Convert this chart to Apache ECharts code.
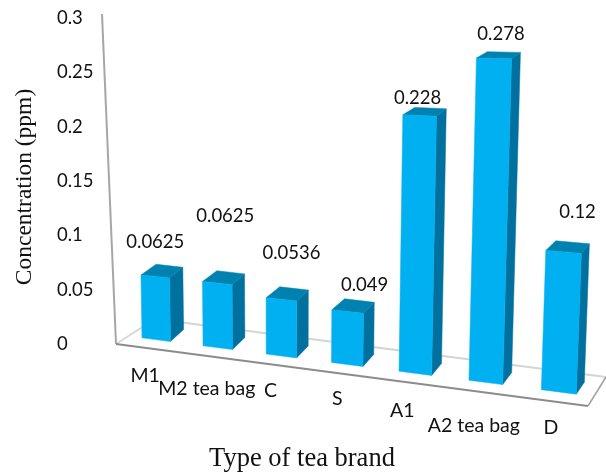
<!DOCTYPE html>
<html><head><meta charset="utf-8">
<style>html,body{margin:0;padding:0;background:#fff}#c{width:606px;height:475px}</style>
<script src="https://cdn.jsdelivr.net/npm/echarts@6/dist/echarts.min.js"></script>
</head><body><div id="c"></div>
<script>
const categories = ['M1','M2 tea bag','C','S','A1','A2 tea bag','D'];
const values = [0.0625,0.0625,0.0536,0.049,0.228,0.278,0.12];
const valueTicks = [0,0.05,0.1,0.15,0.2,0.25,0.3];
const valueLabels = ['0.0625','0.0625','0.0536','0.049','0.228','0.278','0.12'];
// layout nudges for free-floating labels (pixels)
const valueNudge = [[0,-34],[8,-67],[10,-46],[17,-27],[-2,-18],[7,-24],[14,-40]];
const catNudge = [[-11,36],[-11,41],[-11,35],[-10,34],[-13,37],[-12,43],[-8,36]];

const FRONT='#00B0F0', SIDE='#00709E', TOP='#0082B0';
const LABEL_FONT='18.5px Lato';
const CAT_FONT='19.5px Lato';
const INK='#111111';

// Homography from a rectangle of grid pixels to the tilted plane of the bar fronts
const src={x0:135,x1:569,yb:344,yt:18};
const Q=[[143,338],[575,394],[588,33],[138,27]]; // unit (0,0),(1,0),(1,1),(0,1)
function quadH(q){
  const [p0,p1,p2,p3]=q;
  const dx1=p1[0]-p2[0],dx2=p3[0]-p2[0],sx=p0[0]-p1[0]+p2[0]-p3[0];
  const dy1=p1[1]-p2[1],dy2=p3[1]-p2[1],sy=p0[1]-p1[1]+p2[1]-p3[1];
  const det=dx1*dy2-dx2*dy1;
  const g=(sx*dy2-dx2*sy)/det,h=(dx1*sy-sx*dy1)/det;
  return [p1[0]-p0[0]+g*p1[0],p3[0]-p0[0]+h*p3[0],p0[0],
          p1[1]-p0[1]+g*p1[1],p3[1]-p0[1]+h*p3[1],p0[1],g,h];
}
const H=quadH(Q);
function project(px,py){
  let u=(px-src.x0)/(src.x1-src.x0);
  const v=(src.yb-py)/(src.yb-src.yt);
  u=u+0.04*u*(1-u);
  const w=H[6]*u+H[7]*v+1;
  return [(H[0]*u+H[1]*v+H[2])/w,(H[3]*u+H[4]*v+H[5])/w];
}
function depth(p,v){
  return [13.5-0.0125*(p[0]-143),-12+6*v/0.3];
}
function add(p,d,ex){return [p[0]+d[0]+(ex||0),p[1]+d[1]];}

function renderItem(params,api){
  const i=api.value(0),v=api.value(1);
  const base=api.coord([i,0]),tip=api.coord([i,v]);
  const hw=api.size([1,0])[0]*0.235;
  const bl=project(base[0]-hw,base[1]),br=project(base[0]+hw,base[1]);
  const tl=project(tip[0]-hw,tip[1]),tr=project(tip[0]+hw,tip[1]);
  const db=depth(br,0),dt=depth(tr,v);
  const poly=(pts,fill)=>({type:'polygon',shape:{points:pts},style:{fill:fill,stroke:fill,lineWidth:0.5}});
  const tc=[(tl[0]+tr[0])/2,(tl[1]+tr[1])/2],bc=[(bl[0]+br[0])/2,(bl[1]+br[1])/2];
  const txt=(s,x,y,f)=>({type:'text',style:{text:s,x:x,y:y,align:'center',verticalAlign:'middle',font:f,fill:INK}});
  return {type:'group',children:[
    poly([tr,br,add(br,db),add(tr,dt)],SIDE),
    poly([tl,tr,add(tr,dt),add(tl,dt,2)],TOP),
    poly([tl,tr,br,bl],FRONT),
    txt(valueLabels[i],tc[0]+valueNudge[i][0],tc[1]+valueNudge[i][1],LABEL_FONT),
    txt(categories[i],bc[0]+catNudge[i][0],bc[1]+catNudge[i][1],CAT_FONT)
  ]};
}
const line=(a,b,color,w)=>({type:'line',z:0,shape:{x1:a[0],y1:a[1],x2:b[0],y2:b[1]},style:{stroke:color,lineWidth:w}});
const chart=echarts.init(document.getElementById('c'),null,{renderer:'canvas'});
chart.setOption({
  animation:false,
  grid:{left:116,top:18,width:472,height:326},
  xAxis:{type:'category',data:categories,show:false},
  yAxis:{type:'value',min:0,max:0.3,interval:0.05,position:'left',
    axisLine:{show:false},axisTick:{show:false},splitLine:{show:false},
    axisLabel:{margin:59,align:'left',color:INK,fontFamily:'Lato',fontSize:18.5,
      formatter:v=>String(+v.toFixed(2))}},
  graphic:[
    line([155,319],[606,377],'#D4D4D4',2),
    line([116,344],[155,319],'#D4D4D4',1.5),
    line([606,377],[588,406],'#A0A0A0',1.5),
    line([102,14],[116,344],'#A6A6A6',2),
    line([116,344],[588,406],'#8C8C8C',2),
    {type:'text',z:5,style:{text:'Type of tea brand',x:302,y:459,align:'center',verticalAlign:'middle',font:'26.5px "Liberation Serif"',fill:INK}},
    {type:'text',z:5,rotation:Math.PI/2,x:25,y:187,style:{text:'Concentration (ppm)',x:0,y:0,align:'center',verticalAlign:'middle',font:'23.5px "Liberation Serif"',fill:INK}}
  ],
  series:[{type:'custom',renderItem:renderItem,clip:false,z:2,encode:{x:0,y:1},
    data:values.map((v,i)=>[i,v])}]
});
</script></body></html>
